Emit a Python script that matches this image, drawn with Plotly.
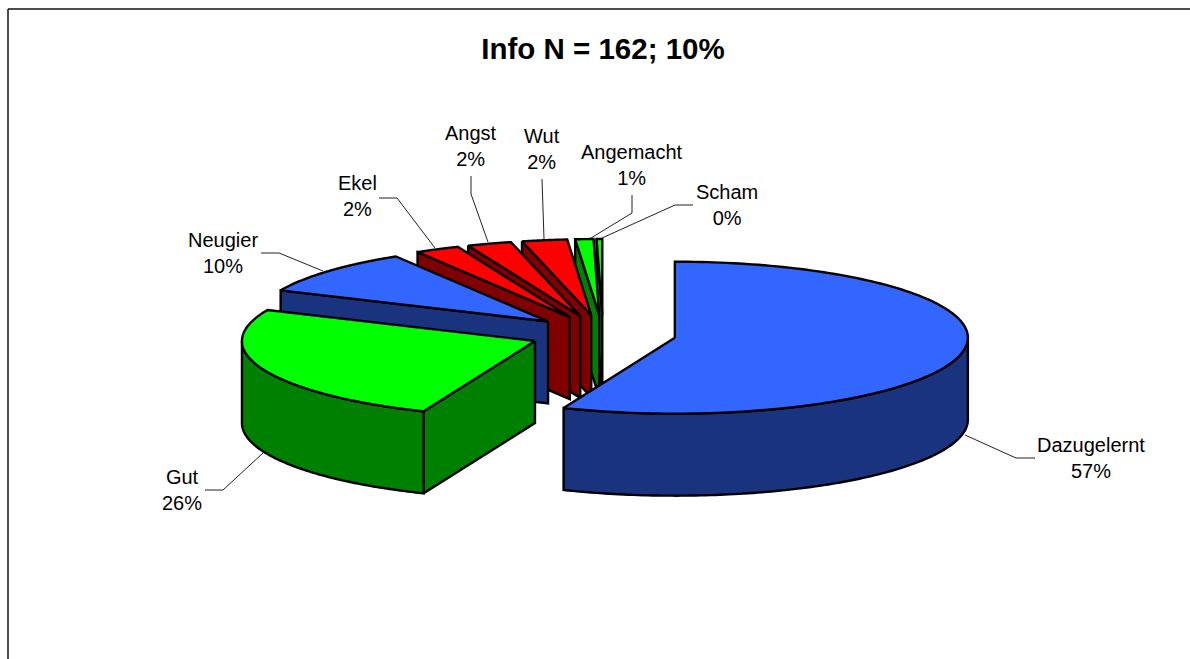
import numpy as np
import plotly.graph_objects as go

# ---- data ----
categories = ["Dazugelernt", "Gut", "Neugier", "Ekel", "Angst", "Wut", "Angemacht", "Scham"]
shares = [56.2, 25.5, 9.6, 2.45, 2.45, 2.49, 1.0, 0.31]
percent_labels = ["57%", "26%", "10%", "2%", "2%", "2%", "1%", "0%"]
title_text = "Info N = 162; 10%"

# ---- styles ----
blue, blue_dark = "#3366FF", "#1A337F"
green, green_dark = "#00FF00", "#008000"
red, red_dark = "#FF0000", "#800000"
top_colors = [blue, green, blue, red, red, red, green, green]
side_colors = [blue_dark, green_dark, blue_dark, red_dark, red_dark, red_dark, green_dark, green_dark]

# ---- layout of the pie, in page pixels ----
W, H = 1190, 659
CX, CY = 603, 334
RX, RY = 293, 76
DEPTH = 82
EXPLODE = 0.25

label_pos = [(1091, 458), (182, 490), (223, 253), (357, 196),
             (471, 146), (542, 149), (632, 165), (727, 205)]
leaders = [
    [(965, 435), (1016, 458), (1035, 458)],
    [(263, 453), (223, 490), (205, 490)],
    [(323, 271), (279, 253), (261, 253)],
    [(435, 248), (397, 198), (379, 198)],
    [(488, 242), (471, 194), (471, 176)],
    [(544, 239), (542, 179)],
    [(591, 238), (632, 213), (632, 195)],
    [(602, 238), (675, 205), (693, 205)],
]

fig = go.Figure()


def poly(xs, ys, fill):
    fig.add_trace(go.Scatter(
        x=np.r_[xs, xs[0]], y=np.r_[ys, ys[0]], mode="lines", fill="toself",
        fillcolor=fill, line=dict(color="black", width=2.4, simplify=False),
        hoverinfo="skip", showlegend=False))


total = sum(shares)
edges = np.cumsum([0] + shares) / total * 2 * np.pi
for i in reversed(range(len(shares))):
    a0, a1 = edges[i], edges[i + 1]
    mid = (a0 + a1) / 2
    ax = CX + EXPLODE * RX * np.sin(mid)
    ay = CY - EXPLODE * RY * np.cos(mid)
    rim = lambda t: (ax + RX * np.sin(t), ay - RY * np.cos(t))
    # radial wall at the start of the slice
    if np.sin(a0) < -1e-6:
        x0, y0 = rim(a0)
        poly(np.array([ax, x0, x0, ax]), np.array([ay, y0, y0 + DEPTH, ay + DEPTH]), side_colors[i])
    # outer wall, only the part facing the viewer
    lo, hi = max(a0, np.pi / 2), min(a1, 3 * np.pi / 2)
    if hi > lo:
        t = np.linspace(lo, hi, 120)
        x, y = rim(t)
        poly(np.r_[x, x[::-1]], np.r_[y, y[::-1] + DEPTH], side_colors[i])
    # top face
    t = np.linspace(a0, a1, 160)
    x, y = rim(t)
    poly(np.r_[ax, x], np.r_[ay, y], top_colors[i])

for pts in leaders:
    fig.add_trace(go.Scatter(
        x=[p[0] for p in pts], y=[p[1] for p in pts], mode="lines",
        line=dict(color="#222222", width=1), hoverinfo="skip", showlegend=False))

for name, pct, (lx, ly) in zip(categories, percent_labels, label_pos):
    fig.add_annotation(x=lx, y=ly, text=f"{name}<br>{pct}", showarrow=False,
                       xanchor="center", yanchor="middle", align="center",
                       font=dict(family="Liberation Sans", size=20, color="black"))

# chart-area frame: only top and left edges are inside the crop
fig.add_shape(type="line", x0=8, x1=W, y0=9, y1=9, line=dict(color="#111111", width=1.5), layer="below")
fig.add_shape(type="line", x0=8, x1=8, y0=9, y1=H, line=dict(color="#111111", width=1.5), layer="below")

fig.update_layout(
    width=W, height=H, margin=dict(l=0, r=0, t=0, b=0),
    paper_bgcolor="white", plot_bgcolor="white", showlegend=False,
    title=dict(text=f"<b>{title_text}</b>", x=603 / W, y=1 - 49 / H,
               xanchor="center", yanchor="middle", xref="paper", yref="paper",
               font=dict(family="Liberation Sans", size=29.5, color="black")),
    xaxis=dict(range=[0, W], visible=False, fixedrange=True),
    yaxis=dict(range=[H, 0], visible=False, fixedrange=True),
)

fig.write_html("out.html", config={"displayModeBar": False},
               post_script="document.body.style.margin='0';document.body.style.overflow='hidden';")
